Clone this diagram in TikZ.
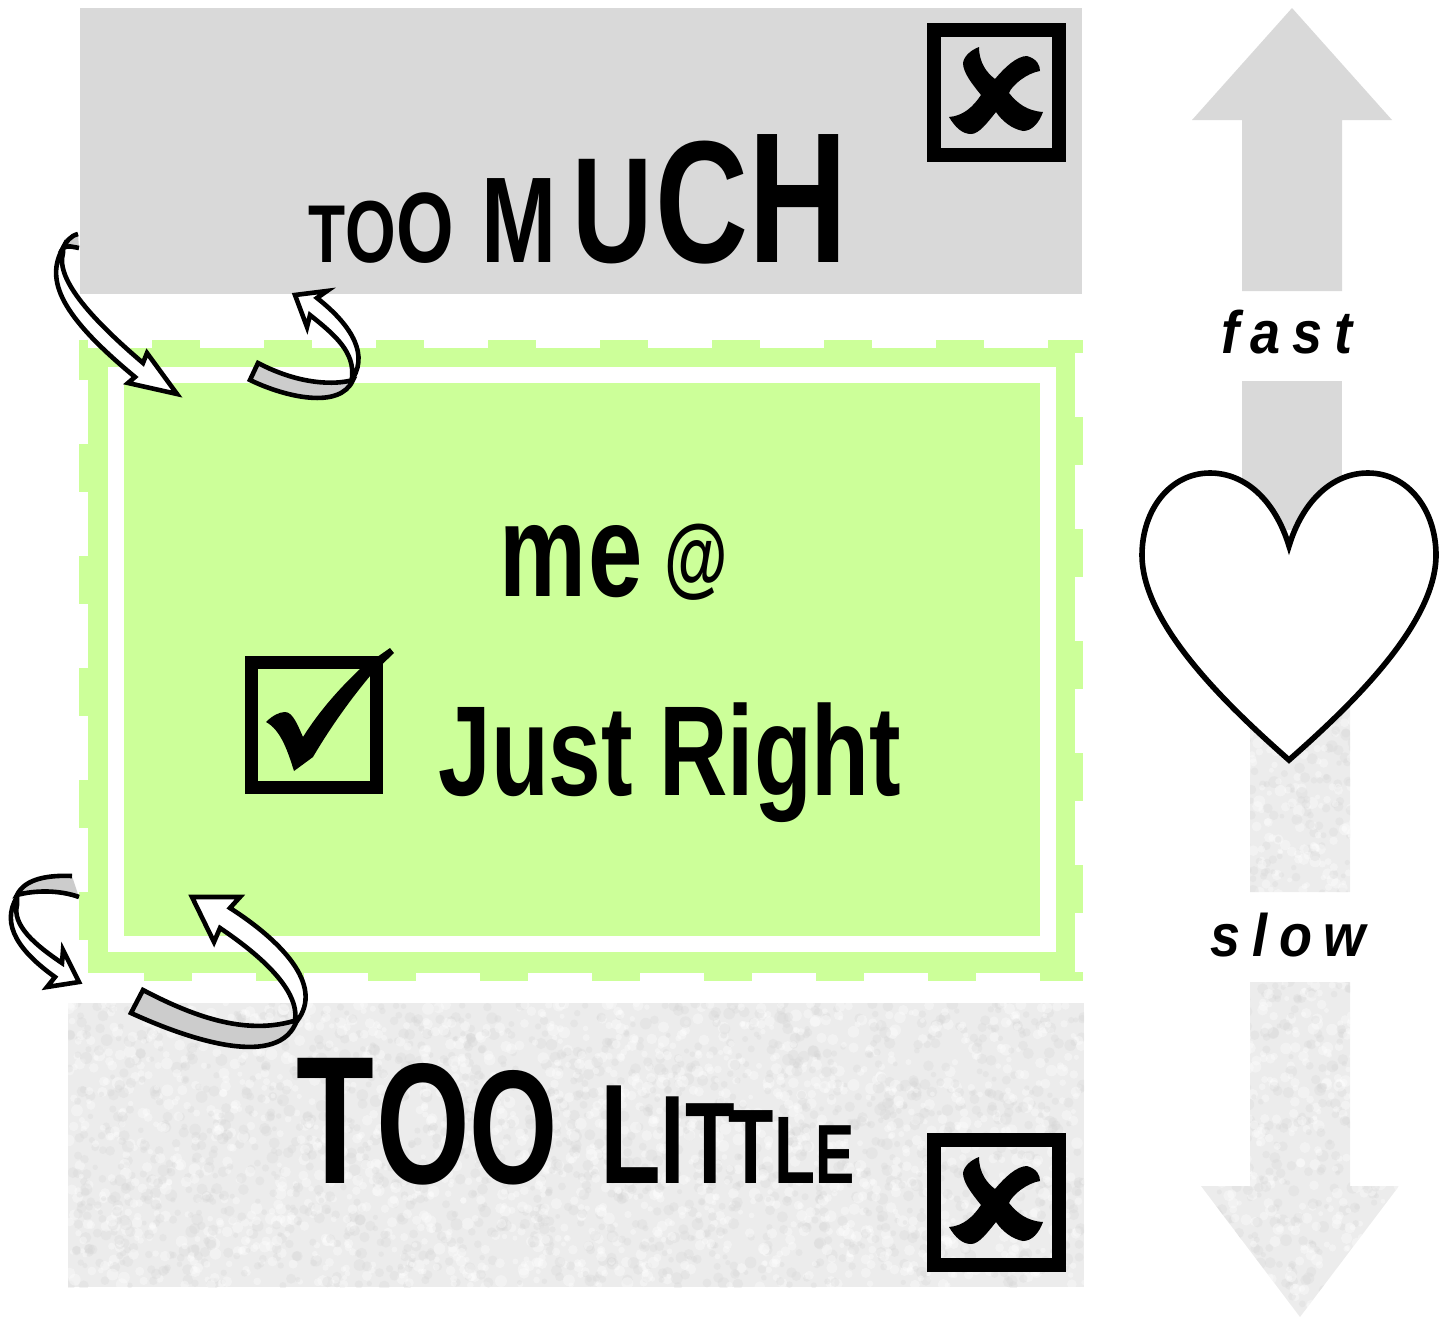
\documentclass[tikz,border=0pt]{standalone}
\usepackage{fontspec}
\setmainfont{Liberation Sans}[FakeStretch=0.74]
\newfontfamily\narrowface{Liberation Sans}[FakeStretch=0.70]
\newfontfamily\wideital{Liberation Sans}[LetterSpace=20,FakeStretch=0.9]
\usepackage{xcolor}
\usepackage{tikz}
\usetikzlibrary{arrows.meta,positioning}
\definecolor{jrGreen}  {RGB}{204,255,153}
\definecolor{jrGrey}   {RGB}{217,217,217}
\definecolor{jrTail}   {RGB}{204,204,204}
\definecolor{jrGrain}  {RGB}{236,236,236}
\newcommand{\lsz}[2]{{\fontsize{#1}{#1}\selectfont #2}}
\newcommand{\grainblobs}[5]{%
  \foreach \k in {1,...,#5}{
    \ifodd\k\relax
      \fill[black!16,opacity=0.3] ({#1+rnd*(#3-#1)},{#2+rnd*(#4-#2)}) circle[radius=1.2pt+rnd*1.8pt];
    \else
      \fill[white,opacity=0.35] ({#1+rnd*(#3-#1)},{#2+rnd*(#4-#2)}) circle[radius=1.2pt+rnd*1.8pt];
    \fi
  }}
\tikzset{
  bigtext/.style={anchor=base west,inner sep=0pt,font=\bfseries},
  speedtext/.style={inner sep=0pt,font=\wideital\bfseries\itshape\fontsize{30}{30}\selectfont},
  ribbon/.style={draw=black,line width=2.3pt,line join=miter,miter limit=8,fill=white},
  ribbontail/.style={draw=black,line width=2.3pt,fill=jrTail},
  boxline/.style={draw=black,line width=7pt}
}
\begin{document}
\begin{tikzpicture}[x=0.5pt,y=-0.5pt]
\useasboundingbox (0,0) rectangle (1445,1317);
\pgfmathsetseed{11}
% Too much band
\fill[jrGrey] (80,8) rectangle (1082,294);
% Too little band, grainy
\begin{scope}
  \clip (68,1003) rectangle (1084,1287);
  \fill[jrGrain] (68,1003) rectangle (1084,1287);
  \grainblobs{68}{1003}{1084}{1287}{3400}
\end{scope}
% Just-right panel: ring with square bumps
\fill[jrGreen] (88,348) rectangle (1075,973);
\foreach \x in {152,264,...,936}{
  \fill[jrGreen] (\x,340) rectangle ++(48,9);
}
\fill[jrGreen] (1048,340) rectangle (1083,353);
\foreach \x in {144,256,...,928}{
  \fill[jrGreen] (\x,972) rectangle ++(48,9);
}
\fill[jrGreen] (1040,972) rectangle (1083,981);
\fill[jrGreen] (79,340) rectangle (88,380);
\foreach \y in {444,556,668,780,892}{
  \fill[jrGreen] (79,\y) rectangle ++(10,48);
}
\foreach \y in {417,529,641,753,865}{
  \fill[jrGreen] (1074,\y) rectangle ++(9,48);
}
\fill[white] (108,367) rectangle (1056,952);
\fill[jrGreen] (124,383) rectangle (1040,936);
% Fast arrow, up
\fill[jrGrey] (1292,8) -- (1392,120) -- (1342,120) -- (1342,291) -- (1242,291)
   -- (1242,120) -- (1192,120) -- cycle;
\fill[jrGrey] (1242,381) rectangle (1342,530);
% Slow arrow, down
\begin{scope}
  \clip (1250,700) rectangle (1350,892)
        (1250,982) -- (1350,982) -- (1350,1186) -- (1399,1186) -- (1300,1317)
        -- (1201,1186) -- (1250,1186) -- cycle;
  \fill[jrGrain] (1201,700) rectangle (1399,1317);
  \grainblobs{1201}{700}{1399}{1317}{1300}
\end{scope}
% Heart
\path[draw=black,line width=2.8pt,fill=white,line join=miter]
  (1289,546) .. controls (1275,500) and (1245,473) .. (1210,473)
  .. controls (1170,473) and (1142,510) .. (1142,555)
  .. controls (1142,625) and (1230,708) .. (1289,760)
  .. controls (1348,708) and (1436,625) .. (1436,555)
  .. controls (1436,510) and (1408,473) .. (1368,473)
  .. controls (1333,473) and (1303,500) .. (1289,546) -- cycle;
% Crossed boxes
\foreach \bx/\by in {927/23,927/1133}{
  \begin{scope}[shift={(\bx,\by)}]
    \draw[boxline] (7,7) rectangle (132,132);
    \fill[black] (52,24) .. controls (52,40) and (60,50) .. (68,56)
      .. controls (78,44) and (90,33) .. (100,33)
      .. controls (110,36) and (113,42) .. (113,48)
      .. controls (100,50) and (85,62) .. (82,70)
      .. controls (90,80) and (100,88) .. (116,89)
      .. controls (112,100) and (105,108) .. (96,108)
      .. controls (85,106) and (75,98) .. (69,89)
      .. controls (60,100) and (52,111) .. (44,111)
      .. controls (35,111) and (28,104) .. (22,94)
      .. controls (36,93) and (46,84) .. (54,72)
      .. controls (46,62) and (36,50) .. (36,40)
      .. controls (37,33) and (44,27) .. (52,24) -- cycle;
  \end{scope}
}
% Ticked box
\draw[black,line width=6.5pt] (251.5,662.5) rectangle (376.5,787.5);
\fill[black] (266,722) .. controls (272,716) and (279,712) .. (285,712)
  .. controls (293,712) and (298,726) .. (303,737)
  .. controls (320,710) and (340,688) .. (360,669)
  -- (390,648) -- (394,653) -- (370,676)
  .. controls (350,700) and (330,728) .. (313,757)
  -- (294,771)
  .. controls (288,752) and (281,730) .. (266,722) -- cycle;
% Labels
\node[bigtext] (much) at (308,262) {\lsz{41}{T}\lsz{44}{O}\lsz{50}{O}\kern 14pt\lsz{61}{M}\kern 8pt\lsz{75}{U}\kern 1pt\lsz{87}{C}\lsz{93}{H}};
\node[bigtext,font=\narrowface\bfseries] (little) at (296,1183) {\lsz{91}{T}\kern 1pt\lsz{86}{O}\lsz{81}{O}\kern 21pt\lsz{71}{L}\lsz{63}{I}\lsz{58}{T}\kern -3pt\lsz{53}{T}\lsz{48}{L}\lsz{42}{E}};
\node[bigtext] (me) at (499,596) {\lsz{66}{m}\kern 1pt\lsz{66}{e}\kern 11pt\raisebox{5pt}{\lsz{44}{@}}};
\node[bigtext] (right) at (438,795) {\lsz{64}{Just Right}};
\node[speedtext] (fast) at (1287,332) {fast};
\node[speedtext] (slow) at (1288,935) {slow};
% Curled arrows, tail first then front
\path[ribbontail] (78,234) .. controls (70,236) and (66,242) .. (63,248)
  .. controls (68,245) and (73,247) .. (79,248);
\path[ribbon] (63,248) .. controls (45,280) and (60,315) .. (135,377)
  -- (128,383) -- (177,394) -- (147,353) -- (143,363)
  .. controls (95,322) and (55,280) .. (63,253) -- cycle;
\path[ribbontail] (258,363) -- (250,380)
  .. controls (285,397) and (340,410) .. (353,380)
  .. controls (335,385) and (300,385) .. (258,363) -- cycle;
\path[ribbon] (353,378) .. controls (370,350) and (345,320) .. (317,298)
  -- (327,291) -- (295,295) -- (307,327) -- (310,315)
  .. controls (335,335) and (355,352) .. (352,378) -- cycle;
\path[ribbontail] (72,876) .. controls (50,875) and (25,878) .. (17,895)
  .. controls (35,890) and (60,890) .. (79,897);
\path[ribbon] (17,897) .. controls (0,925) and (20,952) .. (55,977)
  -- (47,987) -- (79,982) -- (63,950) -- (62,963)
  .. controls (35,945) and (12,925) .. (17,905) -- cycle;
\path[ribbontail] (143,990) -- (131,1013)
  .. controls (190,1040) and (280,1070) .. (297,1020)
  .. controls (250,1035) and (200,1020) .. (143,990) -- cycle;
\path[ribbon] (297,1021) .. controls (325,985) and (280,940) .. (230,908)
  -- (240,897) -- (192,897) -- (214,942) -- (220,928)
  .. controls (260,955) and (300,990) .. (295,1021) -- cycle;
\end{tikzpicture}
\end{document}
